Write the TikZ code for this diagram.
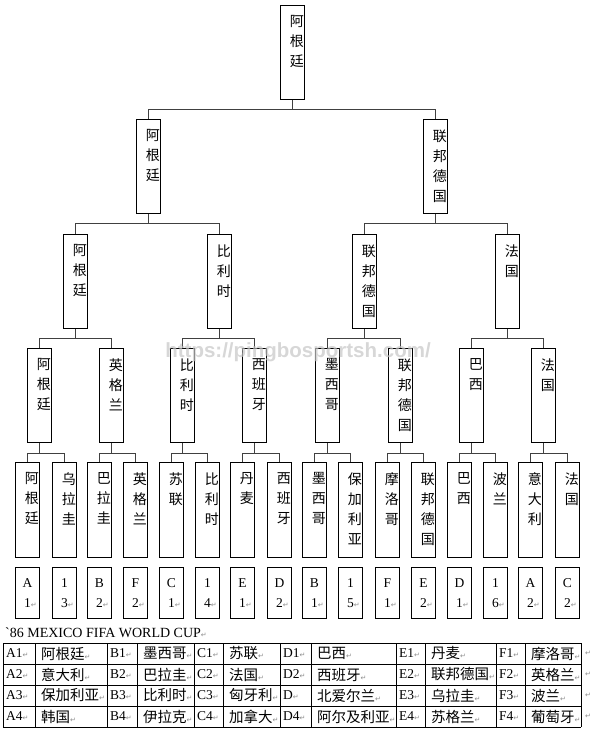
\documentclass[tikz,border=0pt]{standalone}
\usepackage{fontspec}
\setmainfont{Liberation Serif}
\newfontfamily\cjk{Noto Sans CJK SC}
\newfontfamily\symfont{DejaVu Sans}
\newfontfamily\wmfont{Liberation Sans}
\usetikzlibrary{calc}
\newcommand\pmark{{\symfont\fontsize{7}{7}\selectfont\color{black!45}↵}}

\begin{document}
\begin{tikzpicture}[x=1pt, y=-1pt,
    teambox/.style={draw, line width=0.9pt, minimum width=24pt, minimum height=94pt, inner sep=0pt, anchor=north west},
    tname/.style={font=\cjk\fontsize{14}{20}\selectfont, align=center, inner sep=0pt, anchor=north},
    codebox/.style={draw, line width=0.9pt, minimum width=24pt, minimum height=51pt, inner sep=0pt, anchor=north west, align=center, font=\fontsize{13.5}{20}\selectfont},
    link/.style={black!75, line width=0.9pt},
    cell/.style={anchor=west, inner sep=0pt, font=\fontsize{13.5}{16}\selectfont},
    cellcn/.style={anchor=west, inner sep=0pt, font=\cjk\fontsize{14.5}{16}\selectfont}]

  \useasboundingbox (0,0) rectangle (596,738);

  % --- Round of 16 (bottom row of teams) ---
  \foreach \x/\team [count=\i] in {15/阿\\根\\廷, 52/乌\\拉\\圭, 87/巴\\拉\\圭, 123/英\\格\\兰,
      159/苏\\联, 195/比\\利\\时, 230/丹\\麦, 267/西\\班\\牙, 302/墨\\西\\哥, 338/保\\加\\利\\亚,
      375/摩\\洛\\哥, 411/联\\邦\\德\\国, 447/巴\\西, 483/波\\兰, 518/意\\大\\利, 555/法\\国} {
    \node[teambox, minimum height=95pt] (r16-\i) at (\x,462) {};
    \node[tname] (r16-\i-t) at ([xshift=4.5pt, yshift=-10.5pt]r16-\i.north) {\team};
  }

  % Group codes under each team
  \foreach \x/\ca/\cb [count=\i] in {15/A/1, 52/1/3, 87/B/2, 123/F/2, 159/C/1, 195/1/4, 230/E/1, 267/D/2,
      302/B/1, 338/1/5, 375/F/1, 411/E/2, 447/D/1, 483/1/6, 518/A/2, 555/C/2} {
    \node[codebox] (cd-\i) at (\x,567) {\ca\\\cb\rlap{\pmark}};
  }

  % --- Quarter finals ---
  \foreach \x/\team [count=\i] in {27/阿\\根\\廷, 99/英\\格\\兰, 170/比\\利\\时, 242/西\\班\\牙,
      315/墨\\西\\哥, 388/联\\邦\\德\\国, 459/巴\\西, 531/法\\国} {
    \node[teambox] (qf-\i) at (\x,348) {};
    \node[tname] (qf-\i-t) at ([xshift=4.5pt, yshift=-10.5pt]qf-\i.north) {\team};
  }

  % --- Semi finals ---
  \foreach \x/\team [count=\i] in {63/阿\\根\\廷, 207/比\\利\\时, 352/联\\邦\\德\\国, 495/法\\国} {
    \node[teambox] (sf-\i) at (\x,234) {};
    \node[tname] (sf-\i-t) at ([xshift=4.5pt, yshift=-10.5pt]sf-\i.north) {\team};
  }

  % --- Final ---
  \foreach \x/\team [count=\i] in {136/阿\\根\\廷, 423/联\\邦\\德\\国} {
    \node[teambox] (fin-\i) at (\x,119) {};
    \node[tname] (fin-\i-t) at ([xshift=4.5pt, yshift=-10.5pt]fin-\i.north) {\team};
  }

  % --- Champion ---
  \node[teambox] (champ) at (280,5) {};
  \node[tname] (champ-t) at ([xshift=4.5pt, yshift=-10.5pt]champ.north) {阿\\根\\廷};

  % --- Bracket lines ---
  \foreach \i in {1,...,8} {
    \pgfmathtruncatemacro\ia{2*\i-1}
    \pgfmathtruncatemacro\ib{2*\i}
    \draw[link] (r16-\ia.north) -- ++(0,-9) coordinate (j16-\i) -| (r16-\ib.north);
    \draw[link] (qf-\i.south) -- (qf-\i.south |- j16-\i);
  }
  \foreach \i in {1,...,4} {
    \pgfmathtruncatemacro\ia{2*\i-1}
    \pgfmathtruncatemacro\ib{2*\i}
    \draw[link] (qf-\ia.north) -- ++(0,-10) coordinate (jqf-\i) -| (qf-\ib.north);
    \draw[link] (sf-\i.south) -- (sf-\i.south |- jqf-\i);
  }
  \foreach \i in {1,2} {
    \pgfmathtruncatemacro\ia{2*\i-1}
    \pgfmathtruncatemacro\ib{2*\i}
    \draw[link] (sf-\ia.north) -- ++(0,-11) coordinate (jsf-\i) -| (sf-\ib.north);
    \draw[link] (fin-\i.south) -- (fin-\i.south |- jsf-\i);
  }
  \draw[link] (fin-1.north) -- ++(0,-10) coordinate (jfin) -| (fin-2.north);
  \draw[link] (champ.south) -- (champ.south |- jfin);

  % --- Group table ---
  \node[anchor=west, inner sep=0pt, font=\fontsize{14}{16}\selectfont] (title) at (5,633)
    {\textasciigrave 86 MEXICO FIFA WORLD CUP\pmark};

  \foreach \y in {643,664,685,706,727}
    \draw[line width=0.9pt] (3,\y) -- (581,\y);
  \foreach \x in {3,35,107,137,194,223,280,311,396,425,496,525,581}
    \draw[line width=0.9pt] (\x,643) -- (\x,727);

  \foreach \row [count=\i] in {
      {A1/阿根廷, B1/墨西哥, C1/苏联, D1/巴西, E1/丹麦, F1/摩洛哥},
      {A2/意大利, B2/巴拉圭, C2/法国, D2/西班牙, E2/联邦德国, F2/英格兰},
      {A3/保加利亚, B3/比利时, C3/匈牙利, D/北爱尔兰, E3/乌拉圭, F3/波兰},
      {A4/韩国, B4/伊拉克, C4/加拿大, D4/阿尔及利亚, E4/苏格兰, F4/葡萄牙}} {
    \foreach \code/\team [count=\j] in \row {
      \pgfmathsetmacro\xc{{3,107,194,280,396,496}[\j-1]}
      \pgfmathsetmacro\xt{{35,137,223,311,425,525}[\j-1]}
      \node[cell] (g-\i-\j) at (\xc+3, 632.5+21*\i) {\code\pmark};
      \node[cellcn] (n-\i-\j) at (\xt+6, 632.5+21*\i) {\team\pmark};
    }
    \node[inner sep=0pt] (end-\i) at (588, 632.5+21*\i) {\pmark};
  }

  % watermark
  \node[font=\wmfont\bfseries\fontsize{20.5}{24}\selectfont, text=gray!45, opacity=0.7] (wm) at (298,352)
    {https://pingbosportsh.com/};

\end{tikzpicture}
\end{document}
